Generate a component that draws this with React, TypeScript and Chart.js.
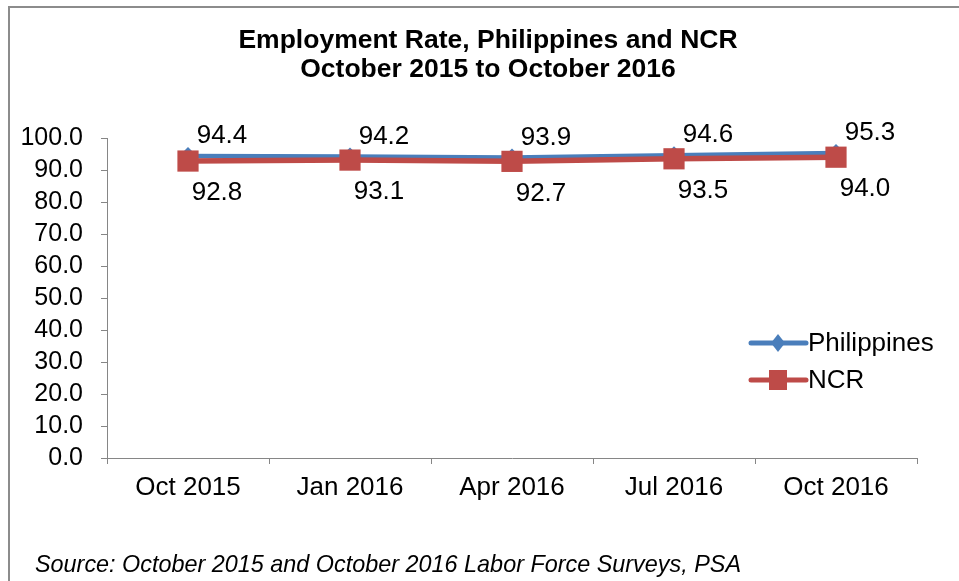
import React, { useEffect, useRef } from "react";
import { Chart, registerables } from "chart.js";

Chart.register(...registerables);

const categories = ["Oct 2015", "Jan 2016", "Apr 2016", "Jul 2016", "Oct 2016"];
const philippines = [94.4, 94.2, 93.9, 94.6, 95.3];
const ncr = [92.8, 93.1, 92.7, 93.5, 94.0];
const seriesNames = ["Philippines", "NCR"];
const titleLines = ["Employment Rate, Philippines and NCR", "October 2015 to October 2016"];
const sourceText = "Source: October 2015 and October 2016 Labor Force Surveys, PSA";

const BLUE = "#4A7EBB";
const RED = "#BE4B48";
const FONT = "'Liberation Sans', Arial, sans-serif";

const labelPlugin = {
  id: "customLabels",
  afterDatasetsDraw(chart: any) {
    const ctx = chart.ctx;
    ctx.save();
    ctx.font = `26px ${FONT}`;
    ctx.fillStyle = "#000";
    ctx.textAlign = "center";
    ctx.textBaseline = "middle";
    const m0 = chart.getDatasetMeta(0);
    const m1 = chart.getDatasetMeta(1);
    m0.data.forEach((p: any, i: number) => {
      ctx.fillText(philippines[i].toFixed(1), p.x + 34, p.y - 20);
    });
    m1.data.forEach((p: any, i: number) => {
      ctx.fillText(ncr[i].toFixed(1), p.x + 29, p.y + 32);
    });
    // legend
    const lx = 751, lw = 55;
    const items = [
      { name: seriesNames[0], color: BLUE, y: 343, shape: "diamond" },
      { name: seriesNames[1], color: RED, y: 380, shape: "square" },
    ];
    items.forEach((it) => {
      ctx.strokeStyle = it.color;
      ctx.lineWidth = 5;
      ctx.lineCap = "round";
      ctx.beginPath();
      ctx.moveTo(lx, it.y);
      ctx.lineTo(lx + lw, it.y);
      ctx.stroke();
      ctx.fillStyle = it.color;
      const cx = 778;
      ctx.beginPath();
      if (it.shape === "diamond") {
        ctx.moveTo(cx, it.y - 9);
        ctx.lineTo(cx + 7, it.y);
        ctx.lineTo(cx, it.y + 9);
        ctx.lineTo(cx - 7, it.y);
        ctx.closePath();
      } else {
        ctx.rect(cx - 9, it.y - 10, 18, 20);
      }
      ctx.fill();
      ctx.fillStyle = "#000";
      ctx.textAlign = "left";
      ctx.fillText(it.name, 808, it.y + 1);
    });
    ctx.restore();
  },
};

export default function App() {
  const ref = useRef<HTMLCanvasElement | null>(null);
  useEffect(() => {
    document.body.style.margin = "0";
    if (!ref.current) return;
    const chart = new Chart(ref.current, {
      type: "line",
      data: {
        labels: categories,
        datasets: [
          {
            label: seriesNames[0],
            data: philippines,
            borderColor: BLUE,
            backgroundColor: BLUE,
            borderWidth: 4.5,
            pointStyle: "rectRot",
            pointRadius: 9,
            pointBorderWidth: 0,
            order: 1,
          },
          {
            label: seriesNames[1],
            data: ncr,
            borderColor: RED,
            backgroundColor: RED,
            borderWidth: 5.5,
            pointStyle: "rect",
            pointRadius: 15,
            pointBorderWidth: 0,
            order: 0,
          },
        ],
      },
      options: {
        animation: false,
        responsive: false,
        maintainAspectRatio: false,
        layout: { padding: { left: 10, top: 138, right: 42, bottom: 0 } },
        plugins: {
          legend: { display: false },
          title: { display: false },
          tooltip: { enabled: false },
        },
        scales: {
          x: {
            offset: true,
            grid: { drawOnChartArea: false, drawTicks: true, tickLength: 6, color: "#868686", offset: true },
            border: { display: true, color: "#868686", width: 1 },
            ticks: { color: "#000", font: { family: FONT, size: 26 }, padding: 8, maxRotation: 0, autoSkip: false },
            afterFit: (s: any) => { s.height = 123; },
          },
          y: {
            min: 0,
            max: 100,
            ticks: {
              stepSize: 10,
              autoSkip: false,
              color: "#000",
              font: { family: FONT, size: 25 },
              padding: 18,
              callback: (v: any) => Number(v).toFixed(1),
            },
            grid: { drawOnChartArea: false, drawTicks: true, tickLength: 6, color: "#868686" },
            border: { display: true, color: "#868686", width: 1 },
            afterFit: (s: any) => { s.width = 97; },
          },
        },
      },
      plugins: [labelPlugin],
    });
    return () => chart.destroy();
  }, []);

  return (
    <div style={{ position: "relative", width: 959, height: 581, overflow: "hidden", background: "#fff" }}>
      <div
        style={{
          position: "absolute", left: 8, top: 6, width: 1000, height: 700,
          borderLeft: "2px solid #8C8C8C", borderTop: "2px solid #8C8C8C",
        }}
      />
      <canvas ref={ref} width={959} height={581} style={{ position: "absolute", left: 0, top: 0 }} />
      <div
        style={{
          position: "absolute", left: 0, width: 976, top: 25, textAlign: "center",
          fontFamily: FONT, fontWeight: "bold", fontSize: 26.5, lineHeight: "29px", color: "#000",
          whiteSpace: "nowrap",
        }}
      >
        {titleLines.map((t, i) => <div key={i}>{t}</div>)}
      </div>
      <div
        style={{
          position: "absolute", left: 35, top: 551, fontFamily: FONT, fontStyle: "italic",
          fontSize: 23.4, lineHeight: "26px", color: "#000", whiteSpace: "nowrap",
        }}
      >
        {sourceText}
      </div>
    </div>
  );
}
